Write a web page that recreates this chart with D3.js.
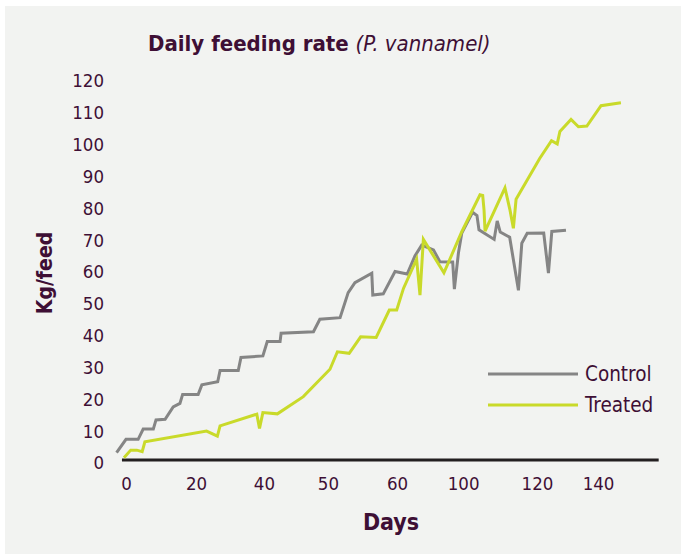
<!DOCTYPE html>
<html>
<head>
<meta charset="utf-8">
<script src="https://cdn.jsdelivr.net/npm/d3@7"></script>
<style>
  body { margin: 0; background: #fff; }
  svg { display: block; }
</style>
</head>
<body>
<div id="chart"></div>
<script>
// feeding data, x in axis position units, y in kg/feed
const controlDays = [-2.8, 0, 3.6, 5.1, 8.1, 8.9, 11.6, 14.0, 16.0, 16.8, 21.4, 22.5, 27.2, 27.9, 33.3, 34.1,
  40.6, 41.9, 45.7, 46.0, 55.6, 57.5, 63.5, 65.9, 67.9, 72.9, 73.2, 76.3, 79.8, 83.4, 85.7, 87.7, 91.2,
  93.1, 96.9, 97.4, 98.6, 99.6, 102.8, 104.1, 104.7, 109.2, 110.1, 111.0, 113.8, 116.4, 117.4, 119.0,
  123.9, 125.3, 126.3, 130.5];
const controlKg = [2.3, 6.5, 6.5, 9.7, 9.7, 12.6, 12.8, 16.7, 17.8, 20.6, 20.6, 23.6, 24.6, 28.1, 28.1, 32.2,
  32.7, 37.2, 37.2, 39.8, 40.3, 44.2, 44.7, 52.6, 55.7, 58.7, 51.8, 52.2, 59.2, 58.4, 64.1, 67.5, 66.0,
  62.3, 62.2, 53.7, 65.0, 71.3, 77.8, 76.8, 72.3, 69.3, 75.1, 71.6, 70.0, 53.3, 68.1, 71.2,
  71.3, 58.7, 71.8, 72.2];

const treatedDays = [-0.6, 1.4, 3.2, 4.8, 5.6, 23.9, 27.1, 27.9, 38.8, 39.6, 40.6, 44.9, 52.6, 60.5, 62.7,
  66.2, 69.6, 74.2, 78.1, 80.3, 82.3, 86.2, 87.2, 88.2, 94.3, 99.6, 105.0, 105.8, 106.2, 106.5, 112.4,
  113.9, 114.9, 115.7, 122.7, 126.2, 127.9, 128.7, 132.0, 134.2, 136.7, 140.9, 146.8];
const treatedKg = [0.7, 3.1, 3.1, 2.6, 5.7, 9.1, 7.5, 10.7, 14.4, 9.9, 14.9, 14.5, 19.9, 28.5, 34.0,
  33.5, 38.7, 38.5, 47.1, 47.1, 53.9, 63.1, 51.8, 69.3, 58.8, 71.7, 83.3, 83.1, 78.5, 71.9, 85.5,
  78.5, 72.8, 81.9, 94.7, 100.3, 99.3, 103.2, 107.0, 104.7, 104.9, 111.3, 112.2];

const xTickPos = [0, 20.8, 40.9, 59.9, 80.4, 100, 121.9, 140];
const xTickLabels = ['0', '20', '40', '50', '60', '100', '120', '140'];
const yTicks = [0, 10, 20, 30, 40, 50, 60, 70, 80, 90, 100, 110, 120];

const seriesNames = ['Control', 'Treated'];
const seriesColors = ['#858585', '#c9da2a'];

const width = 681;
const height = 554;
const textColor = '#3e0f35';
const font = '"Liberation Sans Narrow", "DejaVu Sans Condensed", sans-serif';

const svg = d3.select('#chart')
  .append('svg')
  .attr('width', width)
  .attr('height', height);

svg.append('rect')
  .attr('x', 5).attr('y', 6)
  .attr('width', width - 5).attr('height', height - 6)
  .attr('fill', '#f2f3f1');

const x = d3.scaleLinear()
  .domain([0, 140])
  .range([126, 598]);

const y = d3.scaleLinear()
  .domain([0, 120])
  .range([460, 78]);

// title
const title = svg.append('text')
  .attr('x', 148).attr('y', 51)
  .attr('font-family', font)
  .attr('font-size', 22)
  .attr('fill', textColor);
title.append('tspan').attr('font-weight', 'bold').text('Daily feeding rate ');
title.append('tspan').attr('font-style', 'italic').text('(P. vannamel)');

// y axis labels
svg.append('g')
  .attr('transform', 'translate(104,3)')
  .call(d3.axisLeft(y).tickValues(yTicks).tickSize(0).tickPadding(0))
  .call(g => g.select('.domain').remove())
  .call(g => g.selectAll('text')
    .attr('font-family', font)
    .attr('font-size', 18.5)
    .attr('fill', textColor));

// x axis
svg.append('g')
  .attr('transform', `translate(0,${y(0)})`)
  .call(d3.axisBottom(x).tickValues(xTickPos).tickFormat((d, i) => xTickLabels[i]).tickSize(0).tickPadding(17))
  .call(g => g.select('.domain').remove())
  .call(g => g.selectAll('text')
    .attr('font-family', font)
    .attr('font-size', 18.5)
    .attr('fill', textColor));

svg.append('line')
  .attr('x1', x(-1.2)).attr('x2', x(158))
  .attr('y1', y(0)).attr('y2', y(0))
  .attr('stroke', '#231f20')
  .attr('stroke-width', 3);

const line = d3.line()
  .x(d => x(d[0]))
  .y(d => y(d[1]));

const series = [
  d3.zip(controlDays, controlKg),
  d3.zip(treatedDays, treatedKg)
];

svg.append('g')
  .selectAll('path')
  .data(series)
  .join('path')
  .attr('d', line)
  .attr('fill', 'none')
  .attr('stroke', (d, i) => seriesColors[i])
  .attr('stroke-width', 3)
  .attr('stroke-linejoin', 'miter');

// axis titles
svg.append('text')
  .attr('transform', 'translate(52,273) rotate(-90)')
  .attr('text-anchor', 'middle')
  .attr('font-family', font)
  .attr('font-weight', 'bold')
  .attr('font-size', 21)
  .attr('fill', textColor)
  .text('Kg/feed');

svg.append('text')
  .attr('x', 391).attr('y', 530)
  .attr('text-anchor', 'middle')
  .attr('font-family', font)
  .attr('font-weight', 'bold')
  .attr('font-size', 23)
  .attr('fill', textColor)
  .text('Days');

// legend
const legend = svg.append('g')
  .selectAll('g')
  .data(seriesNames)
  .join('g')
  .attr('transform', (d, i) => `translate(488,${374 + i * 31})`);

legend.append('line')
  .attr('x1', 0).attr('x2', 90)
  .attr('stroke', (d, i) => seriesColors[i])
  .attr('stroke-width', 3);

legend.append('text')
  .attr('x', 97).attr('dy', '0.35em')
  .attr('font-family', font)
  .attr('font-size', 20.5)
  .attr('fill', textColor)
  .text(d => d);
</script>
</body>
</html>
